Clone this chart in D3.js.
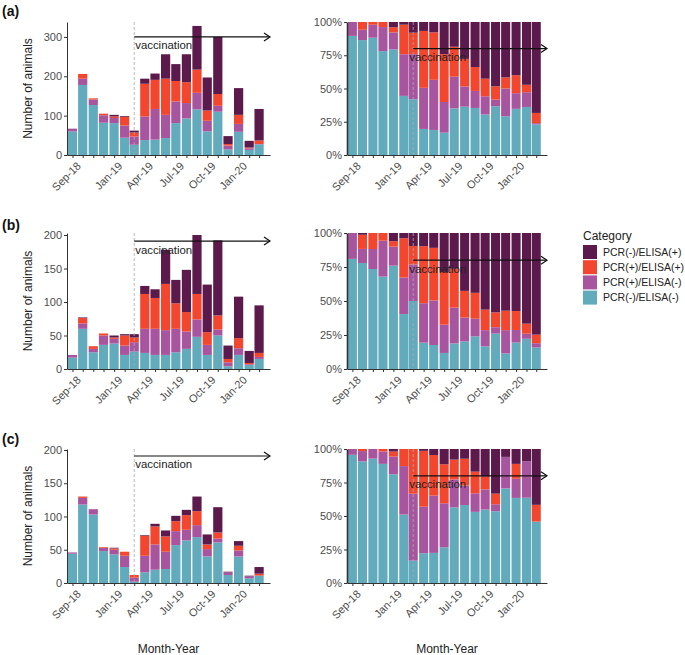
<!DOCTYPE html>
<html lang="en">
<head>
<meta charset="UTF-8">
<title>PCR / ELISA status by month</title>
<script src="https://d3js.org/d3.v7.min.js"></script>
<style>
  body { margin: 0; background: #fff; font-family: "Liberation Sans", Arial, sans-serif; }
  .tick text { fill: #4d4d4d; }
  .domain, .tick line { stroke: #333; }
</style>
</head>
<body>
<div id="chart"></div>
<script>
// months shown, Sep-18 .. Mar-20
const months = ["2018-09","2018-10","2018-11","2018-12","2019-01","2019-02","2019-03","2019-04","2019-05","2019-06",
                "2019-07","2019-08","2019-09","2019-10","2019-11","2019-12","2020-01","2020-02","2020-03"];
const tickLabels = ["Sep-18","Jan-19","Apr-19","Jul-19","Oct-19","Jan-20"];
const categories = ["PCR(-)/ELISA(-)","PCR(+)/ELISA(-)","PCR(+)/ELISA(+)","PCR(-)/ELISA(+)"]; // bottom -> top
const colors = ["#62abbd","#a855a0","#f2462e","#5b1a4b"];
const vaccinationDate = "2019-03";

// (a)
const aNegNeg = [60,178,127,82,81,44,26,38,39,43,81,93,116,60,110,14,59,13,27];
const aPosNeg = [7,16,14,19,13,31,21,60,78,59,55,39,42,27,15,10,20,4,1];
const aPosPos = [0,12,3,4,4,22,10,83,74,92,52,53,59,26,30,4,23,2,9];
const aNegPos = [0,0,0,0,4,2,5,13,16,62,43,71,111,84,145,20,68,17,80];
// (b)
const bNegNeg = [17,60,25,36,38,21,26,24,21,21,25,30,48,21,50,4,21,6,15];
const bPosNeg = [4,8,5,14,7,14,14,36,39,37,35,26,26,15,9,6,10,1,3];
const bPosPos = [0,8,4,3,2,15,7,52,46,69,38,29,38,19,21,5,15,2,6];
const bNegPos = [0,1,0,0,3,2,5,12,13,51,35,63,88,71,112,20,62,18,71];
// (c)
const cNegNeg = [44,118,103,48,43,24,2,16,20,21,57,64,69,40,61,12,40,7,11];
const cPosNeg = [2,10,8,5,7,17,6,25,38,26,21,16,18,11,6,4,9,3,0];
const cPosPos = [0,2,0,1,2,6,4,30,27,23,15,22,21,7,9,0,7,0,3];
const cNegPos = [0,0,0,0,1,0,0,1,4,9,8,8,22,15,38,1,7,1,10];

const W = 685, H = 655;
const parse = d3.timeParse("%Y-%m");
const fmt = d3.timeFormat("%b-%y");

const rows = [
  { label: "(a)", series: [aNegNeg, aPosNeg, aPosPos, aNegPos], yMax: 338, yTicks: [0,100,200,300], arrowAt: 300, top: 22, bottom: 155, labelY: 16 },
  { label: "(b)", series: [bNegNeg, bPosNeg, bPosPos, bNegPos], yMax: 203, yTicks: [0,50,100,150,200], arrowAt: 191, top: 233, bottom: 369, labelY: 230 },
  { label: "(c)", series: [cNegNeg, cPosNeg, cPosPos, cNegPos], yMax: 201.5, yTicks: [0,50,100,150,200], arrowAt: 191, top: 449, bottom: 583, labelY: 444 }
];

const xDomain = [new Date(2018, 7, 16), new Date(2020, 3, 2)];
const cols = [
  { x0: 67, x1: 270, textDx: 1 },
  { x0: 347, x1: 547, textDx: -4 }
];

const svg = d3.select("#chart").append("svg")
  .attr("width", W).attr("height", H)
  .style("font-family", "'Liberation Sans', Arial, sans-serif");

rows.forEach(row => {
  const table = months.map((m, i) => {
    const o = { date: parse(m) };
    categories.forEach((c, k) => o[c] = row.series[k][i]);
    return o;
  });

  cols.forEach((col, ci) => {
    const x = d3.scaleTime().domain(xDomain).range([col.x0, col.x1]);
    const bw = 0.9 * (x(parse(months[1])) - x(parse(months[0])));
    const y = d3.scaleLinear()
      .domain(ci === 0 ? [0, row.yMax] : [0, 1])
      .range([row.bottom, row.top]);

    const stack = d3.stack().keys(categories);
    if (ci === 1) stack.offset(d3.stackOffsetExpand);
    const layers = stack(table);

    const g = svg.append("g");

    g.selectAll(".layer")
      .data(layers)
      .join("g")
      .attr("fill", (d, i) => colors[i])
      .selectAll("rect")
      .data(d => d)
      .join("rect")
      .attr("x", d => x(d.data.date) - bw / 2)
      .attr("width", bw)
      .attr("y", d => y(d[1]))
      .attr("height", d => Math.max(0, y(d[0]) - y(d[1])));

    // vaccination marker
    const vx = x(parse(vaccinationDate));
    g.append("line")
      .attr("x1", vx).attr("x2", vx)
      .attr("y1", row.top).attr("y2", row.bottom)
      .attr("stroke", "#aaa").attr("stroke-width", 0.8)
      .attr("stroke-dasharray", "3,2");

    const ay = ci === 0 ? y(row.arrowAt) : y(0.8);
    const ax = x(xDomain[1]);
    g.append("line")
      .attr("x1", vx).attr("x2", ax - 0.5)
      .attr("y1", ay).attr("y2", ay)
      .attr("stroke", "#111").attr("stroke-width", 1.2);
    g.append("path")
      .attr("d", `M${ax - 6},${ay - 4}L${ax},${ay}L${ax - 6},${ay + 4}`)
      .attr("fill", "none").attr("stroke", "#111").attr("stroke-width", 1.2);

    g.append("text")
      .attr("x", vx + col.textDx).attr("y", ay + 12.5)
      .attr("font-size", 11.4).attr("fill", "#222")
      .text("vaccination");

    // axes
    const xAxis = g.append("g")
      .attr("transform", `translate(0,${row.bottom})`)
      .call(d3.axisBottom(x)
        .tickValues(months.map(parse))
        .tickFormat(d => tickLabels.includes(fmt(d)) ? fmt(d) : "")
        .tickSize(3).tickSizeOuter(0));
    xAxis.selectAll("text")
      .attr("x", 0).attr("y", 0).attr("dy", "0.72em")
      .attr("transform", "translate(3,6) rotate(-45)")
      .attr("text-anchor", "end")
      .attr("font-size", 11);

    const yAxis = g.append("g")
      .attr("transform", `translate(${col.x0},0)`)
      .call(d3.axisLeft(y)
        .tickValues(ci === 0 ? row.yTicks : [0, 0.25, 0.5, 0.75, 1])
        .tickFormat(ci === 0 ? d3.format("d") : d3.format(".0%"))
        .tickSize(3).tickPadding(2).tickSizeOuter(0));
    yAxis.selectAll("text").attr("font-size", 11);
    if (ci === 1) yAxis.select(".domain").attr("stroke-width", 1.6);
  });

  svg.append("text")
    .attr("x", 2).attr("y", row.labelY)
    .attr("font-size", 14).attr("font-weight", "bold").attr("fill", "#111")
    .text(row.label);

  svg.append("text")
    .attr("transform", `translate(32,${(row.top + row.bottom) / 2}) rotate(-90)`)
    .attr("text-anchor", "middle")
    .attr("font-size", 12).attr("fill", "#222")
    .text("Number of animals");
});

// x axis titles
cols.forEach(col => {
  svg.append("text")
    .attr("x", (col.x0 + col.x1) / 2).attr("y", 653)
    .attr("text-anchor", "middle")
    .attr("font-size", 12).attr("fill", "#222")
    .text("Month-Year");
});

// legend, top entry is the top of the stack
const legend = svg.append("g").attr("transform", "translate(583,0)");
legend.append("text")
  .attr("x", 0).attr("y", 239.5)
  .attr("font-size", 12).attr("fill", "#222")
  .text("Category");
const legendItems = categories.slice().reverse();
legendItems.forEach((c, i) => {
  const cy = 252 + i * 15.2;
  legend.append("rect")
    .attr("x", 0).attr("y", cy - 7).attr("width", 14).attr("height", 14)
    .attr("fill", colors[categories.indexOf(c)]);
  legend.append("text")
    .attr("x", 20).attr("y", cy).attr("dy", "0.35em")
    .attr("font-size", 10.5).attr("fill", "#222")
    .text(c);
});
</script>
</body>
</html>
